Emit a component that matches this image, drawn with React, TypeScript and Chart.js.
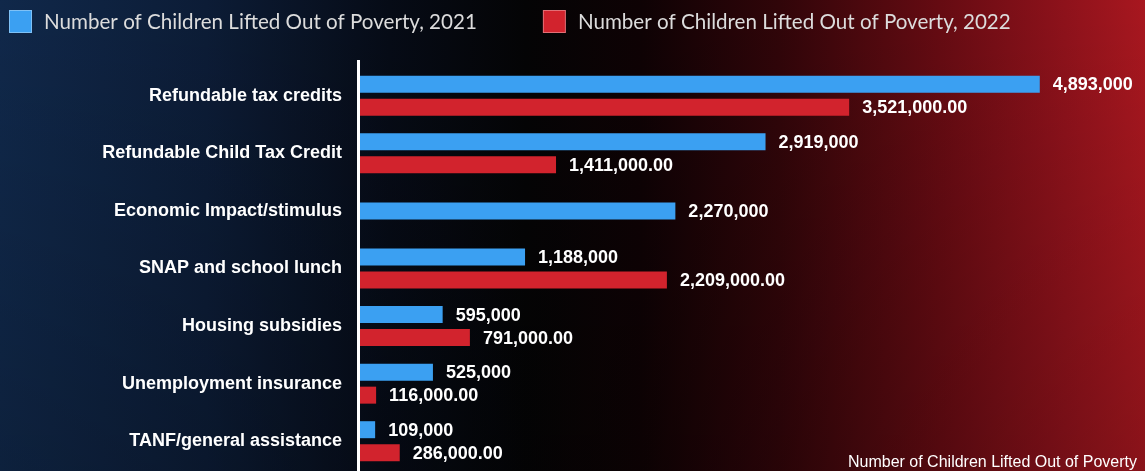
import React, { useEffect, useRef } from 'react';
import { Chart, registerables } from 'chart.js';

Chart.register(...registerables);

const categories = [
  'Refundable tax credits',
  'Refundable Child Tax Credit',
  'Economic Impact/stimulus',
  'SNAP and school lunch',
  'Housing subsidies',
  'Unemployment insurance',
  'TANF/general assistance',
];
const children2021 = [4893000, 2919000, 2270000, 1188000, 595000, 525000, 109000];
const children2022 = [3521000, 1411000, null, 2209000, 791000, 116000, 286000];
const seriesNames = [
  'Number of Children Lifted Out of Poverty, 2021',
  'Number of Children Lifted Out of Poverty, 2022',
];
const axisTitle = 'Number of Children Lifted Out of Poverty';
const xMax = 5600000;

const BLUE = '#3ba0f2';
const RED = '#d2232d';

const bgPlugin = {
  id: 'bgGradient',
  beforeDraw(chart: any) {
    const { ctx, width, height } = chart;
    ctx.save();
    const g = ctx.createLinearGradient(0, 0, width, 0);
    g.addColorStop(0, '#10284a');
    g.addColorStop(0.18, '#0c1c36');
    g.addColorStop(0.34, '#060b16');
    g.addColorStop(0.46, '#040405');
    g.addColorStop(0.56, '#0e0204');
    g.addColorStop(0.68, '#300509');
    g.addColorStop(0.82, '#650b12');
    g.addColorStop(0.93, '#8e121b');
    g.addColorStop(1, '#a8171f');
    ctx.fillStyle = g;
    ctx.fillRect(0, 0, width, height);
    const v = ctx.createLinearGradient(0, 0, 0, height);
    v.addColorStop(0, 'rgba(0,0,0,0)');
    v.addColorStop(1, 'rgba(0,0,0,0.18)');
    ctx.fillStyle = v;
    ctx.fillRect(0, 0, width, height);
    ctx.restore();
  },
};

const axisLinePlugin = {
  id: 'axisLine',
  afterDatasetsDraw(chart: any) {
    const { ctx, chartArea, height } = chart;
    ctx.save();
    ctx.strokeStyle = '#ffffff';
    ctx.lineWidth = 3;
    ctx.beginPath();
    ctx.moveTo(chartArea.left - 1.5, 60);
    ctx.lineTo(chartArea.left - 1.5, height);
    ctx.stroke();
    ctx.restore();
  },
};

const valueLabelPlugin = {
  id: 'valueLabels',
  afterDatasetsDraw(chart: any) {
    const { ctx } = chart;
    ctx.save();
    ctx.font = 'bold 18px "Liberation Sans", Arial, sans-serif';
    ctx.fillStyle = '#ffffff';
    ctx.textAlign = 'left';
    ctx.textBaseline = 'middle';
    chart.data.datasets.forEach((ds: any, di: number) => {
      const meta = chart.getDatasetMeta(di);
      meta.data.forEach((bar: any, i: number) => {
        const v = ds.data[i];
        if (v === null || v === undefined) return;
        const text =
          di === 0
            ? v.toLocaleString('en-US')
            : v.toLocaleString('en-US', { minimumFractionDigits: 2, maximumFractionDigits: 2 });
        ctx.fillText(text, bar.x + 13, bar.y + 1);
      });
    });
    ctx.restore();
  },
};

const legendPlugin = {
  id: 'customLegend',
  afterDraw(chart: any) {
    const { ctx } = chart;
    ctx.save();
    ctx.font = '20.6px Lato, "Open Sans", sans-serif';
    ctx.textBaseline = 'middle';
    ctx.textAlign = 'left';
    let x = 9;
    const y = 10;
    const box = 23;
    chart.data.datasets.forEach((ds: any) => {
      ctx.fillStyle = ds.backgroundColor;
      ctx.fillRect(x, y, box, box);
      ctx.strokeStyle = 'rgba(255,255,255,0.35)';
      ctx.lineWidth = 1;
      ctx.strokeRect(x + 0.5, y + 0.5, box - 1, box - 1);
      ctx.fillStyle = '#dcdcdc';
      const tx = x + box + 12;
      ctx.fillText(ds.label, tx, y + box / 2 + 1);
      x = tx + ctx.measureText(ds.label).width + 66;
    });
    ctx.restore();
  },
};

const axisTitlePlugin = {
  id: 'axisTitleText',
  afterDraw(chart: any) {
    const { ctx, chartArea } = chart;
    ctx.save();
    ctx.font = '16px "Liberation Sans", Arial, sans-serif';
    ctx.fillStyle = '#ffffff';
    ctx.textAlign = 'right';
    ctx.textBaseline = 'middle';
    ctx.fillText(axisTitle, chartArea.right - 1, 463);
    ctx.restore();
  },
};

export default function App() {
  const canvasRef = useRef<HTMLCanvasElement | null>(null);

  useEffect(() => {
    if (!canvasRef.current) return;
    const chart = new Chart(canvasRef.current, {
      type: 'bar',
      data: {
        labels: categories,
        datasets: [
          {
            label: seriesNames[0],
            data: children2021,
            backgroundColor: BLUE,
            categoryPercentage: 0.8,
            barPercentage: 0.74,
            maxBarThickness: 17,
            skipNull: true,
          } as any,
          {
            label: seriesNames[1],
            data: children2022,
            backgroundColor: RED,
            categoryPercentage: 0.8,
            barPercentage: 0.74,
            maxBarThickness: 17,
            skipNull: true,
          } as any,
        ],
      },
      options: {
        indexAxis: 'y',
        animation: false,
        responsive: true,
        maintainAspectRatio: false,
        layout: { padding: { top: 67, bottom: 1, left: 0, right: 7 } },
        plugins: {
          legend: { display: false },
          tooltip: { enabled: false },
        },
        scales: {
          x: {
            display: false,
            min: 0,
            max: xMax,
          },
          y: {
            afterFit(scale: any) {
              scale.width = 360;
              scale.paddingTop = 0;
              scale.paddingBottom = 0;
            },
            grid: { display: false, drawTicks: false },
            border: { display: false },
            ticks: {
              color: '#ffffff',
              padding: 18,
              font: { family: '"Liberation Sans", Arial, sans-serif', size: 18, weight: 'bold' },
            },
          },
        },
      },
      plugins: [bgPlugin, axisLinePlugin, valueLabelPlugin, legendPlugin, axisTitlePlugin],
    });
    return () => chart.destroy();
  }, []);

  return (
    <div style={{ position: 'fixed', left: 0, top: 0, width: 1145, height: 471 }}>
      <canvas ref={canvasRef} />
    </div>
  );
}
